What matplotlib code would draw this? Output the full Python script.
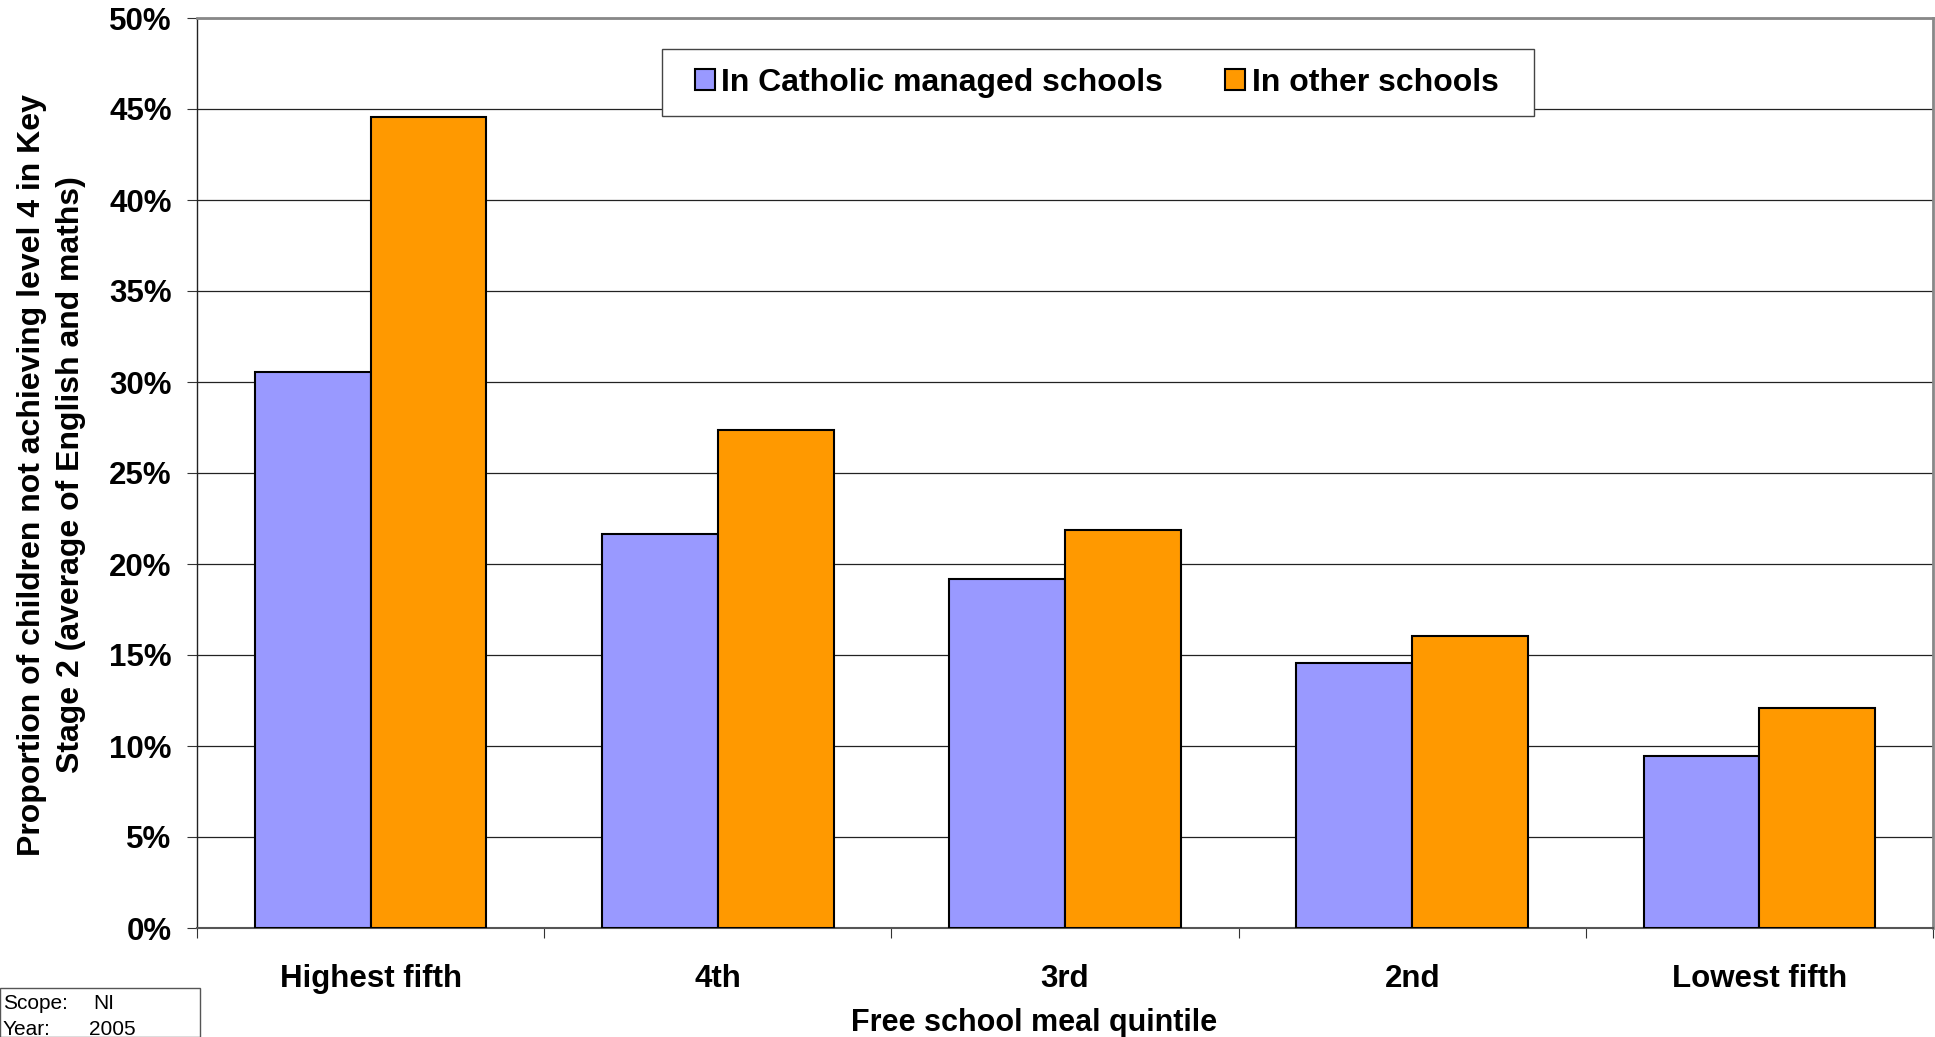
import matplotlib
matplotlib.use("Agg")
import matplotlib.pyplot as plt
from matplotlib.patches import Rectangle
import numpy as np

categories = ["Highest fifth", "4th", "3rd", "2nd", "Lowest fifth"]
catholic = [30.55, 21.65, 19.2, 14.55, 9.45]
other = [44.55, 27.35, 21.85, 16.05, 12.07]
series_names = ["In Catholic managed schools", "In other schools"]
ytick_vals = [0, 5, 10, 15, 20, 25, 30, 35, 40, 45, 50]
ytick_labels = [f"{v}%" for v in ytick_vals]
ylabel_lines = ["Proportion of children not achieving level 4 in Key",
                "Stage 2 (average of English and maths)"]
xlabel = "Free school meal quintile"

plt.rcParams['font.family'] = ['Liberation Sans', 'DejaVu Sans']

W, H = 1935, 1037
fig = plt.figure(figsize=(W / 100, H / 100), dpi=100)
AX_L, AX_R, AX_T, AX_B = 197, 1933, 18, 928
ax = fig.add_axes([AX_L / W, (H - AX_B) / H, (AX_R - AX_L) / W, (AX_B - AX_T) / H])


def ax_x(px):
    return (px - AX_L) / (AX_R - AX_L)


def ax_y(py):
    return (AX_B - py) / (AX_B - AX_T)


x = np.arange(len(categories))
w = 1 / 3
ax.bar(x - w / 2, catholic, w, color="#9999FF", edgecolor="black", linewidth=1.5,
       label=series_names[0], zorder=3)
ax.bar(x + w / 2, other, w, color="#FF9900", edgecolor="black", linewidth=1.5,
       label=series_names[1], zorder=3)

ax.set_xlim(-0.5, len(categories) - 0.5)
ax.set_ylim(0, 50)
ax.set_yticks(ytick_vals)
ax.set_yticklabels(ytick_labels, fontsize=22.5, fontweight="bold")
ax.set_xticks(x)
ax.set_xticklabels(categories, fontsize=22.5, fontweight="bold")
ax.set_xticks(np.arange(-0.5, len(categories)), minor=True)
ax.tick_params(axis="x", which="major", length=0, pad=26)
ax.tick_params(axis="x", which="minor", length=7.2, width=0.8, color="#333333")
ax.tick_params(axis="y", length=7.2, width=0.8, pad=11, color="#333333")

ax.yaxis.grid(True, color="#222222", linewidth=0.9, zorder=0)
ax.set_axisbelow(True)

for s in ["top", "right"]:
    ax.spines[s].set_color("#888888")
    ax.spines[s].set_linewidth(2)
ax.spines["left"].set_color("#222222")
ax.spines["left"].set_linewidth(1)
ax.spines["bottom"].set_color("#555555")
ax.spines["bottom"].set_linewidth(1.5)

# legend frame
x0, x1 = ax_x(661.5), ax_x(1534)
y0, y1 = ax_y(116), ax_y(49)
ax.add_patch(Rectangle((x0, y0), x1 - x0, y1 - y0, transform=ax.transAxes,
                       facecolor="white", edgecolor="#444444", linewidth=1,
                       zorder=4, clip_on=False))
leg = ax.legend(loc="center left", bbox_to_anchor=(ax_x(695), ax_y(82.5)), ncol=2,
                prop={"size": 23, "weight": "bold"}, frameon=False,
                handlelength=0.63, handleheight=0.66, handletextpad=0.19,
                columnspacing=1.95, borderpad=0, borderaxespad=0)
leg.set_zorder(5)

# two-line y label (baselines on the right of rotated glyphs)
for line, bx in zip(ylabel_lines, [40, 79]):
    fig.text(bx / W, 1 - 475 / H, line, rotation=90, rotation_mode="anchor",
             ha="center", va="baseline", fontsize=23, fontweight="bold")

fig.text(1034 / W, 1 - 1031 / H, xlabel, ha="center",
         va="baseline", fontsize=22, fontweight="bold")

fig.patches.append(Rectangle((0, 0), 200 / W, (H - 988) / H, transform=fig.transFigure,
                             facecolor="white", edgecolor="#555555", linewidth=1))
fig.text(3 / W, 1 - 1009 / H, "Scope:", fontsize=15, va="baseline")
fig.text(93 / W, 1 - 1009 / H, "NI", fontsize=15, va="baseline")
fig.text(3 / W, 1 - 1035 / H, "Year:", fontsize=15, va="baseline")
fig.text(89 / W, 1 - 1035 / H, "2005", fontsize=15, va="baseline")

fig.savefig("out.png", dpi=100)
